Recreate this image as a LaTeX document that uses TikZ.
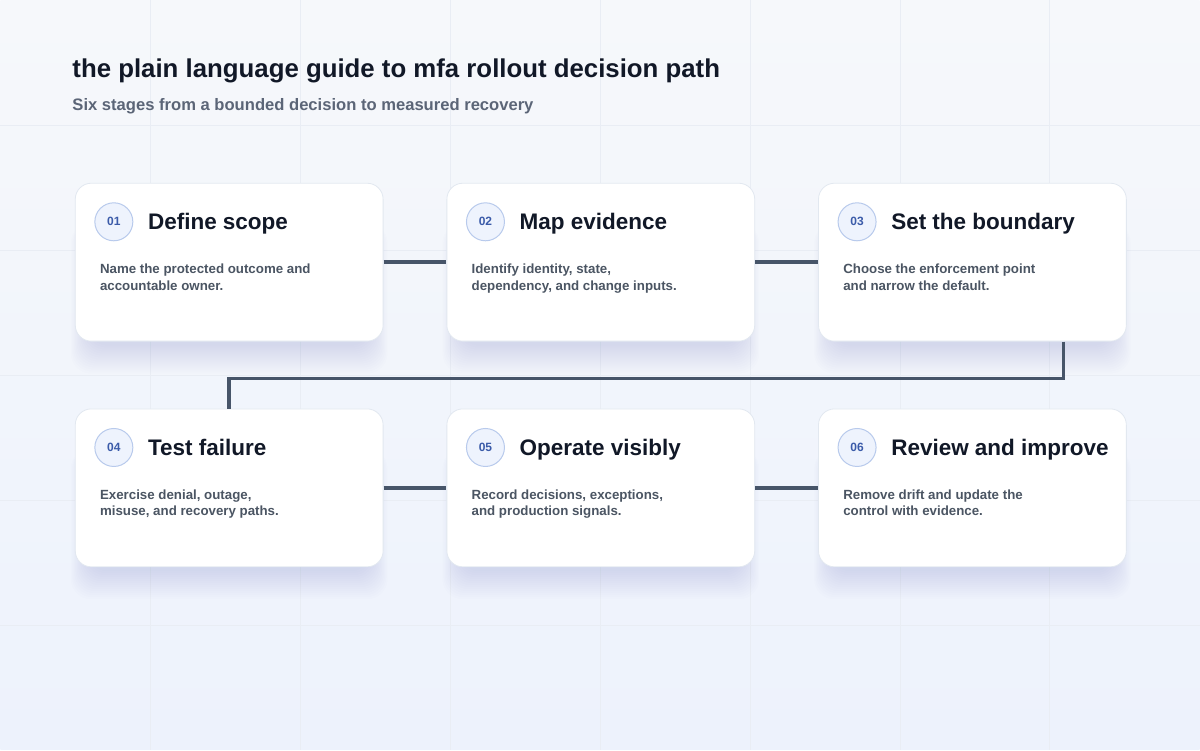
\documentclass[tikz,border=0pt]{standalone}
\usepackage{fontspec}
\setmainfont{Liberation Sans}
\usetikzlibrary{positioning}

\definecolor{bgtop}{HTML}{F6F8FB}
\definecolor{bgbottom}{HTML}{EDF2FC}
\definecolor{gridcol}{HTML}{E9EDF4}
\definecolor{inkcol}{HTML}{111827}
\definecolor{subcol}{HTML}{5B6577}
\definecolor{desccol}{HTML}{4B5563}
\definecolor{linecol}{HTML}{475569}
\definecolor{edgecol}{HTML}{E2E8F0}
\definecolor{badgefill}{HTML}{EEF3FD}
\definecolor{badgeline}{HTML}{B8CAEC}
\definecolor{badgetext}{HTML}{3B5BA9}
\definecolor{shadowcol}{HTML}{4A5A80}

\pgfdeclarelayer{backdrop}
\pgfdeclarelayer{shade}
\pgfsetlayers{backdrop,shade,main}

\tikzset{
  card/.style={draw=edgecol, line width=0.8pt, fill=white, rounded corners=16pt,
    minimum width=308pt, minimum height=158pt, inner sep=0pt},
  badge/.style={draw=badgeline, line width=1pt, fill=badgefill, circle, minimum size=38pt,
    inner sep=0pt, text=badgetext, font=\bfseries\fontsize{12}{14}\selectfont},
  heading/.style={anchor=base west, text=inkcol, font=\bfseries\fontsize{22.5}{26}\selectfont, inner sep=0pt},
  desc/.style={anchor=north west, text=desccol, align=left, inner sep=0pt,
    font=\bfseries\fontsize{13.3}{16.5}\selectfont},
  link/.style={draw=linecol, line width=3.5pt}
}

\begin{document}
\begin{tikzpicture}[x=1pt, y=-1pt, node distance=63pt]
	% background and grid
	\begin{pgfonlayer}{backdrop}
		\shade[top color=bgtop, bottom color=bgbottom] (0,0) rectangle (1200,750);
		\foreach \gx in {150,300,...,1050}
			\draw[gridcol, line width=0.6pt] (\gx,0) -- (\gx,750);
		\foreach \gy in {125,250,...,625}
			\draw[gridcol, line width=0.6pt] (0,\gy) -- (1200,\gy);
	\end{pgfonlayer}
	\useasboundingbox (0,0) rectangle (1200,750);

	\node[anchor=base west, inner sep=0pt, text=inkcol, font=\bfseries\fontsize{25.8}{30}\selectfont] (title) at (72,77) {the plain language guide to mfa rollout decision path};
	\node[anchor=base west, inner sep=0pt, text=subcol, font=\bfseries\fontsize{16.6}{19}\selectfont] (subtitle) at (72,110) {Six stages from a bounded decision to measured recovery};

	% cards
	\node[card] (scope) at (229,262) {};
	\node[card, right=of scope] (evidence) {};
	\node[card, right=of evidence] (boundary) {};
	\node[card, below=67pt of scope] (failure) {};
	\node[card, right=of failure] (operate) {};
	\node[card, right=of operate] (review) {};

	% soft shadows
	\begin{pgfonlayer}{shade}
		\foreach \c in {scope,evidence,boundary,failure,operate,review}
			\foreach \s in {2,4,...,30}
				\fill[shadowcol, opacity=0.009, rounded corners=20pt]
					([xshift=14pt-\s*0.6pt, yshift=-40pt]\c.north west) rectangle ([xshift=-14pt+\s*0.6pt, yshift=-2pt-\s*1pt]\c.south east);
	\end{pgfonlayer}

	% connectors
	\draw[link] (scope) -- (evidence);
	\draw[link] (evidence) -- (boundary);
	\draw[link] ([xshift=91pt]boundary.south) -- ++(0,37) -| (failure.north);
	\draw[link] (failure) -- (operate);
	\draw[link] (operate) -- (review);

	% card contents
	\foreach \c/\n/\t/\d in {scope/01/Define scope/{Name the protected outcome and\\accountable owner.},
	    evidence/02/Map evidence/{Identify identity, state,\\dependency, and change inputs.},
	    boundary/03/Set the boundary/{Choose the enforcement point\\and narrow the default.},
	    failure/04/Test failure/{Exercise denial, outage,\\misuse, and recovery paths.},
	    operate/05/Operate visibly/{Record decisions, exceptions,\\and production signals.},
	    review/06/Review and improve/{Remove drift and update the\\control with evidence.}}{
		\node[badge] (\c-num) at ([xshift=39pt, yshift=-39pt]\c.north west) {\n};
		\node[heading] (\c-head) at ([xshift=73pt, yshift=-47pt]\c.north west) {\t};
		\node[desc] (\c-desc) at ([xshift=25pt, yshift=-81pt]\c.north west) {\d};
	}
\end{tikzpicture}
\end{document}
